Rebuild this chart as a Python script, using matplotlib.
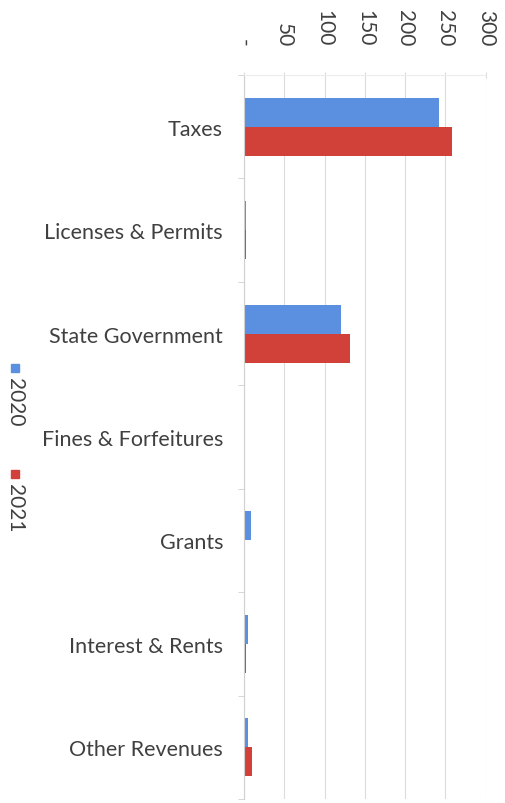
import numpy as np
import matplotlib.pyplot as plt
from matplotlib.patches import Rectangle
from matplotlib.ticker import FuncFormatter

categories = ['Taxes', 'Licenses & Permits', 'State Government', 'Fines & Forfeitures',
              'Grants', 'Interest & Rents', 'Other Revenues']
values_2020 = [242, 2, 121, 0, 9, 5, 4.5]
values_2021 = [258, 2, 131, 0, 0, 3, 10]
series_names = ['2020', '2021']
x_ticks = [0, 50, 100, 150, 200, 250, 300]

blue = '#5b8fe0'
red = '#d2403a'
text_color = '#404040'

plt.rcParams['font.family'] = ['Lato', 'DejaVu Sans']

fig = plt.figure(figsize=(5.06, 8.04), dpi=100)
ax = fig.add_axes([0.482, 0.005, 0.478, 0.9005])

y = np.arange(len(categories))
h = 0.28
ax.barh(y - h / 2, values_2020, height=h, color=blue)
ax.barh(y + h / 2, values_2021, height=h, color=red)

ax.set_ylim(len(categories) - 0.5, -0.5)
ax.set_xlim(0, 300)
ax.set_yticks(y)
ax.set_yticklabels(categories, fontsize=15.5, color=text_color)
ax.set_yticks(np.arange(len(categories) + 1) - 0.5, minor=True)

ax.set_xticks(x_ticks)
ax.xaxis.set_major_formatter(FuncFormatter(lambda v, p: '-' if v == 0 else '%d' % v))
ax.xaxis.tick_top()
for lab in ax.get_xticklabels():
    lab.set_rotation(-90)
    lab.set_fontsize(15)
    lab.set_color(text_color)
    lab.set_va('bottom')
    lab.set_ha('center')

ax.grid(axis='x', color='#dcdcdc', linewidth=0.8)
ax.set_axisbelow(True)
for s in ['right', 'bottom']:
    ax.spines[s].set_visible(False)
ax.spines['top'].set_color('#ececec')
ax.spines['left'].set_color('#d0d0d0')
ax.tick_params(axis='x', length=4, direction='inout', color='#dcdcdc', pad=19)
ax.tick_params(axis='y', which='major', length=0, pad=15)
ax.tick_params(axis='y', which='minor', length=4, color='#d0d0d0', direction='out')

# rotated legend on the left
for i, (name, col) in enumerate(zip(series_names, [blue, red])):
    yt = 1 - (368 + i * 106) / 804
    fig.patches.append(Rectangle((0.022, yt - 0.006), 0.016, 0.010,
                                 transform=fig.transFigure, color=col))
    fig.text(0.030, yt - 0.012, name, rotation=-90, ha='center', va='top',
             fontsize=15, color=text_color)

fig.savefig('out.png', dpi=100)
